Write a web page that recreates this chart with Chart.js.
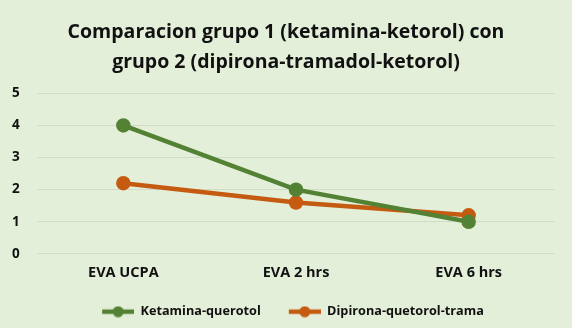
<!DOCTYPE html>
<html>
<head>
<meta charset="utf-8">
<script src="https://cdn.jsdelivr.net/npm/chart.js@4/dist/chart.umd.min.js"></script>
<style>
  html, body { margin: 0; padding: 0; background: #e3efd9; }
  #wrap { width: 572px; height: 328px; position: relative; }
</style>
</head>
<body>
<div id="wrap"><canvas id="c"></canvas></div>
<script>
const categories = ['EVA UCPA', 'EVA 2 hrs', 'EVA 6 hrs'];
const ketamina = [4.0, 2.0, 1.0];
const dipirona = [2.2, 1.6, 1.2];
const seriesNames = ['Ketamina-querotol', 'Dipirona-quetorol-trama'];
const yTicks = [0, 1, 2, 3, 4, 5];

const GREEN = '#548235';
const ORANGE = '#c55a11';
const FONT = "'Open Sans', sans-serif";

// legend marker: blank gap, then a short line with a dot in the middle
function legendMarker(color) {
  const cv = document.createElement('canvas');
  cv.width = 46;
  cv.height = 12;
  const ctx = cv.getContext('2d');
  ctx.strokeStyle = color;
  ctx.lineWidth = 4.5;
  ctx.beginPath();
  ctx.moveTo(14, 6);
  ctx.lineTo(46, 6);
  ctx.stroke();
  ctx.fillStyle = color;
  ctx.beginPath();
  ctx.arc(30, 6, 5.5, 0, Math.PI * 2);
  ctx.fill();
  return cv;
}

const colors = [GREEN, ORANGE];

new Chart(document.getElementById('c'), {
  type: 'line',
  data: {
    labels: categories,
    datasets: [
      { label: seriesNames[0], data: ketamina },
      { label: seriesNames[1], data: dipirona },
    ].map((d, i) => ({
      ...d,
      borderColor: colors[i],
      backgroundColor: colors[i],
      pointBackgroundColor: colors[i],
      pointBorderColor: colors[i],
      borderWidth: 4.5,
      pointRadius: 5,
      fill: false,
      tension: 0,
    })),
  },
  options: {
    responsive: true,
    maintainAspectRatio: false,
    animation: false,
    layout: { padding: { left: 17, right: 17, top: 10, bottom: 0 } },
    plugins: {
      title: {
        display: true,
        text: ['Comparacion grupo 1 (ketamina-ketorol) con', 'grupo 2 (dipirona-tramadol-ketorol)'],
        color: '#111',
        font: { family: FONT, size: 19.5, weight: 'bold', lineHeight: 1.52 },
        padding: { top: 8, bottom: 16 },
      },
      legend: {
        position: 'bottom',
        labels: {
          color: '#111',
          font: { family: FONT, size: 12.7, weight: 'bold' },
          usePointStyle: true,
          pointStyleWidth: 46,
          padding: 14,
          generateLabels: (chart) => chart.data.datasets.map((ds, i) => ({
            text: ds.label,
            pointStyle: legendMarker(colors[i]),
            fontColor: '#111',
            datasetIndex: i,
            hidden: false,
            lineWidth: 0,
          })),
        },
      },
      tooltip: { enabled: false },
    },
    scales: {
      x: {
        offset: true,
        grid: { display: false, drawTicks: false },
        border: { display: false },
        ticks: { color: '#111', font: { family: FONT, size: 14.5, weight: 'bold' }, padding: 10 },
      },
      y: {
        min: 0,
        max: 5,
        afterBuildTicks: (axis) => { axis.ticks = yTicks.map((v) => ({ value: v })); },
        afterFit: (axis) => { axis.width = 20; },
        grid: { color: '#d0dcc6', drawTicks: false },
        border: { display: false },
        // mirrored labels pushed back left of the plot so they are not clipped
        ticks: { mirror: true, color: '#111', font: { family: FONT, size: 13.5, weight: 'bold' }, padding: -25 },
      },
    },
  },
});
</script>
</body>
</html>
